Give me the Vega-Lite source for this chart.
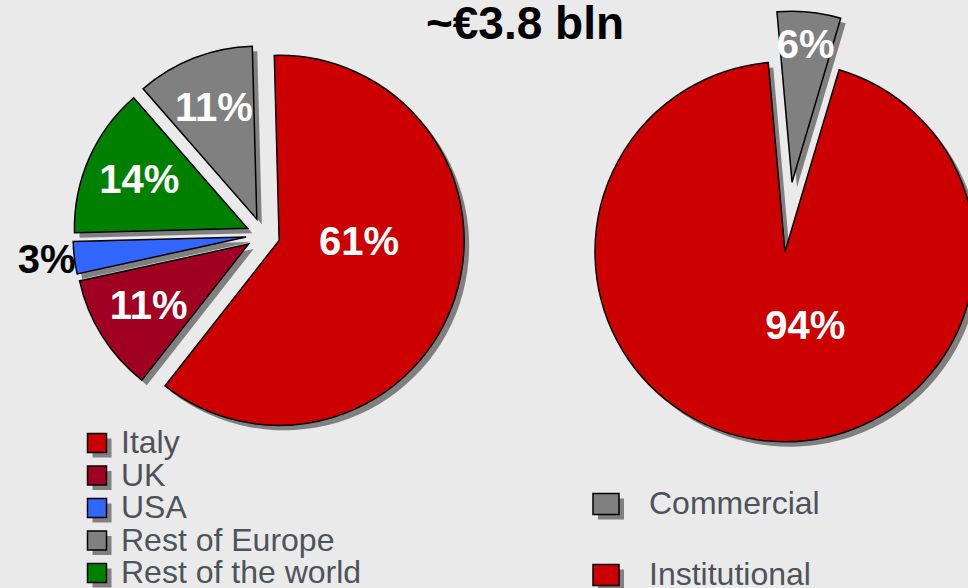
{
  "$schema": "https://vega.github.io/schema/vega-lite/v6.json",
  "width": 968,
  "height": 588,
  "autosize": {"type": "fit", "contains": "padding"},
  "padding": 0,
  "background": "#eaeaea",
  "config": {"view": {"stroke": null}, "font": "Liberation Sans"},
  "title": {"text": "~€3.8 bln", "font": "Liberation Sans", "fontSize": 46, "fontWeight": "bold", "color": "#000000", "anchor": "middle", "frame": "group", "dx": 41, "offset": -85, "baseline": "alphabetic"},
  "resolve": {
    "scale": {"x": "independent", "y": "independent", "theta": "independent", "color": "independent", "opacity": "independent"},
    "legend": {"color": "independent", "opacity": "independent"}
  },
  "layer": [
    {
      "data": {"values": [
        {"region": "Italy", "pct": 61},
        {"region": "UK", "pct": 11},
        {"region": "USA", "pct": 3},
        {"region": "Rest of the world", "pct": 14},
        {"region": "Rest of Europe", "pct": 11}
      ]},
      "transform": [
        {"window": [{"op": "sum", "field": "pct", "as": "end"}], "frame": [null, 0]},
        {"calculate": "datum.end - datum.pct", "as": "start"},
        {"calculate": "(datum.start + datum.end) / 2", "as": "mid"},
        {"calculate": "-0.02618 + datum.mid * PI / 50", "as": "ang"},
        {"calculate": "0.0919 * sin(datum.ang)", "as": "ox"},
        {"calculate": "0.0919 * cos(datum.ang)", "as": "oy"},
        {"calculate": "datum.pct + '%'", "as": "label"}
      ],
      "encoding": {
        "x": {"field": "ox", "type": "quantitative", "axis": null, "scale": {"domain": [-1.4216, 3.8108], "nice": false, "zero": false}},
        "y": {"field": "oy", "type": "quantitative", "axis": null, "scale": {"domain": [-1.9081, 1.2703], "nice": false, "zero": false}}
      },
      "layer": [
        {
          "transform": [{"filter": "datum.pct >= 50"}],
          "mark": {"type": "arc", "radius": 185, "fill": "#808080", "xOffset": 5, "yOffset": 5},
          "encoding": {
            "theta": {"field": "start", "type": "quantitative", "stack": null, "scale": {"domain": [0, 100], "range": [-0.02618, 6.25701], "nice": false, "zero": false}},
            "theta2": {"field": "end"},
            "opacity": {"field": "region", "type": "nominal",
              "scale": {"domain": ["Rest of the world", "Rest of Europe", "USA", "UK", "Italy"], "range": [1, 1, 1, 1, 1]},
              "legend": {"title": null, "orient": "none", "legendX": 86, "legendY": 432, "zindex": 1, "symbolType": "square", "symbolSize": 361, "labelFont": "Liberation Sans", "labelFontSize": 32, "labelOpacity": 0, "labelColor": "transparent", "labelOffset": 8, "labelLimit": 500, "rowPadding": 0.5, "padding": 0,
                "encode": {"symbols": {"update": {"fill": {"value": "#808080"}, "stroke": {"value": "transparent"}, "opacity": {"value": 1}}}}}}
          }
        },
        {
          "transform": [{"filter": "datum.pct < 50"}],
          "mark": {"type": "arc", "radius": 173, "fill": "#808080", "xOffset": 5, "yOffset": 5},
          "encoding": {
            "theta": {"field": "start", "type": "quantitative", "stack": null},
            "theta2": {"field": "end"}
          }
        },
        {
          "transform": [{"filter": "datum.pct >= 50"}],
          "mark": {"type": "arc", "radius": 185, "stroke": "#000000", "strokeWidth": 1.5},
          "encoding": {
            "theta": {"field": "start", "type": "quantitative", "stack": null},
            "theta2": {"field": "end"},
            "color": {"field": "region", "type": "nominal",
              "scale": {"domain": ["Italy", "UK", "USA", "Rest of Europe", "Rest of the world"], "range": ["#cc0000", "#a00021", "#3366ff", "#808080", "#008000"]},
              "legend": {"title": null, "orient": "none", "legendX": 81, "legendY": 427, "zindex": 2, "symbolType": "square", "symbolSize": 361, "labelFont": "Liberation Sans", "labelFontSize": 32, "labelColor": "#4d5359", "labelOffset": 8, "labelLimit": 500, "rowPadding": 0.5, "padding": 0,
                "encode": {"symbols": {"update": {"stroke": {"value": "#000000"}, "strokeWidth": {"value": 2}, "opacity": {"value": 1}}}}}}
          }
        },
        {
          "transform": [{"filter": "datum.pct < 50"}],
          "mark": {"type": "arc", "radius": 173, "stroke": "#000000", "strokeWidth": 1.5},
          "encoding": {
            "theta": {"field": "start", "type": "quantitative", "stack": null},
            "theta2": {"field": "end"},
            "color": {"field": "region", "type": "nominal"}
          }
        },
        {
          "transform": [{"filter": "datum.pct >= 50"}],
          "mark": {"type": "text", "radius": 80, "thetaOffset": -0.285, "font": "Liberation Sans", "fontSize": 40, "fontWeight": "bold", "color": "#ffffff", "align": "center", "baseline": "middle"},
          "encoding": {
            "theta": {"field": "mid", "type": "quantitative", "stack": null},
            "text": {"field": "label"}
          }
        },
        {
          "transform": [{"filter": "datum.pct >= 5 && datum.pct < 50"}],
          "mark": {"type": "text", "radius": 118, "font": "Liberation Sans", "fontSize": 40, "fontWeight": "bold", "color": "#ffffff", "align": "center", "baseline": "middle"},
          "encoding": {
            "theta": {"field": "mid", "type": "quantitative", "stack": null},
            "text": {"field": "label"}
          }
        },
        {
          "transform": [{"filter": "datum.pct < 5"}],
          "mark": {"type": "text", "radius": 201, "font": "Liberation Sans", "fontSize": 40, "fontWeight": "bold", "color": "#000000", "align": "center", "baseline": "middle"},
          "encoding": {
            "theta": {"field": "mid", "type": "quantitative", "stack": null},
            "text": {"field": "label"}
          }
        }
      ]
    },
    {
      "data": {"values": [
        {"segment": "Commercial", "pct": 6},
        {"segment": "Institutional", "pct": 94}
      ]},
      "transform": [
        {"window": [{"op": "sum", "field": "pct", "as": "end"}], "frame": [null, 0]},
        {"calculate": "datum.end - datum.pct", "as": "start"},
        {"calculate": "(datum.start + datum.end) / 2", "as": "mid"},
        {"calculate": "-0.08814 + datum.mid * PI / 50", "as": "ang"},
        {"calculate": "0.1842 * sin(datum.ang)", "as": "ox"},
        {"calculate": "0.1842 * cos(datum.ang)", "as": "oy"},
        {"calculate": "datum.pct + '%'", "as": "label"}
      ],
      "encoding": {
        "x": {"field": "ox", "type": "quantitative", "axis": null, "scale": {"domain": [-4.15, 0.9447], "nice": false, "zero": false}},
        "y": {"field": "oy", "type": "quantitative", "axis": null, "scale": {"domain": [-1.9526, 1.1421], "nice": false, "zero": false}}
      },
      "layer": [
        {
          "transform": [{"filter": "datum.pct >= 50"}],
          "mark": {"type": "arc", "radius": 190, "fill": "#808080", "xOffset": 5, "yOffset": 5, "clip": true},
          "encoding": {
            "theta": {"field": "start", "type": "quantitative", "stack": null, "scale": {"domain": [0, 100], "range": [-0.08814, 6.19505], "nice": false, "zero": false}},
            "theta2": {"field": "end"},
            "opacity": {"field": "segment", "type": "nominal",
              "scale": {"domain": ["Institutional", "Commercial"], "range": [1, 1]},
              "legend": {"title": null, "orient": "none", "legendX": 595, "legendY": 493, "zindex": 1, "symbolType": "M-1.238,-1L1.238,-1L1.238,1L-1.238,1Z", "symbolSize": 441, "labelFont": "Liberation Sans", "labelFontSize": 32, "labelOpacity": 0, "labelColor": "transparent", "labelOffset": 27, "labelLimit": 500, "rowPadding": 39, "padding": 0,
                "encode": {"symbols": {"update": {"fill": {"value": "#808080"}, "stroke": {"value": "transparent"}, "opacity": {"value": 1}}}}}}
          }
        },
        {
          "transform": [{"filter": "datum.pct < 50"}],
          "mark": {"type": "arc", "radius": 171, "fill": "#808080", "xOffset": 5, "yOffset": 5, "clip": true},
          "encoding": {
            "theta": {"field": "start", "type": "quantitative", "stack": null},
            "theta2": {"field": "end"}
          }
        },
        {
          "transform": [{"filter": "datum.pct >= 50"}],
          "mark": {"type": "arc", "radius": 190, "stroke": "#000000", "strokeWidth": 1.5, "clip": true},
          "encoding": {
            "theta": {"field": "start", "type": "quantitative", "stack": null},
            "theta2": {"field": "end"},
            "color": {"field": "segment", "type": "nominal",
              "scale": {"domain": ["Commercial", "Institutional"], "range": ["#808080", "#cc0000"]},
              "legend": {"title": null, "orient": "none", "legendX": 590, "legendY": 488, "zindex": 2, "symbolType": "M-1.238,-1L1.238,-1L1.238,1L-1.238,1Z", "symbolSize": 441, "labelFont": "Liberation Sans", "labelFontSize": 32, "labelColor": "#4d5359", "labelOffset": 27, "labelLimit": 500, "rowPadding": 39, "padding": 0,
                "labelExpr": "datum.value == 'Institutional' ? '\u00a0\u00a0' + datum.label : datum.label",
                "encode": {"symbols": {"update": {"stroke": {"value": "#000000"}, "strokeWidth": {"value": 2}, "opacity": {"value": 1}}}}}}
          }
        },
        {
          "transform": [{"filter": "datum.pct < 50"}],
          "mark": {"type": "arc", "radius": 171, "stroke": "#000000", "strokeWidth": 1.5, "clip": true},
          "encoding": {
            "theta": {"field": "start", "type": "quantitative", "stack": null},
            "theta2": {"field": "end"},
            "color": {"field": "segment", "type": "nominal",
              "legend": {"title": null, "orient": "none", "legendX": 590, "legendY": 488, "zindex": 2, "symbolType": "M-1.238,-1L1.238,-1L1.238,1L-1.238,1Z", "symbolSize": 441, "labelFont": "Liberation Sans", "labelFontSize": 32, "labelColor": "#4d5359", "labelOffset": 27, "labelLimit": 500, "rowPadding": 39, "padding": 0,
                "labelExpr": "datum.value == 'Institutional' ? '\u00a0\u00a0' + datum.label : datum.label",
                "encode": {"symbols": {"update": {"stroke": {"value": "#000000"}, "strokeWidth": {"value": 2}, "opacity": {"value": 1}}}}}}
          }
        },
        {
          "transform": [{"filter": "datum.pct >= 50"}],
          "mark": {"type": "text", "radius": 78, "thetaOffset": -0.362, "font": "Liberation Sans", "fontSize": 40, "fontWeight": "bold", "color": "#ffffff", "align": "center", "baseline": "middle"},
          "encoding": {
            "theta": {"field": "mid", "type": "quantitative", "stack": null},
            "text": {"field": "label"}
          }
        },
        {
          "transform": [{"filter": "datum.pct < 50"}],
          "mark": {"type": "text", "radius": 137, "font": "Liberation Sans", "fontSize": 40, "fontWeight": "bold", "color": "#ffffff", "align": "center", "baseline": "middle"},
          "encoding": {
            "theta": {"field": "mid", "type": "quantitative", "stack": null},
            "text": {"field": "label"}
          }
        }
      ]
    }
  ]
}
